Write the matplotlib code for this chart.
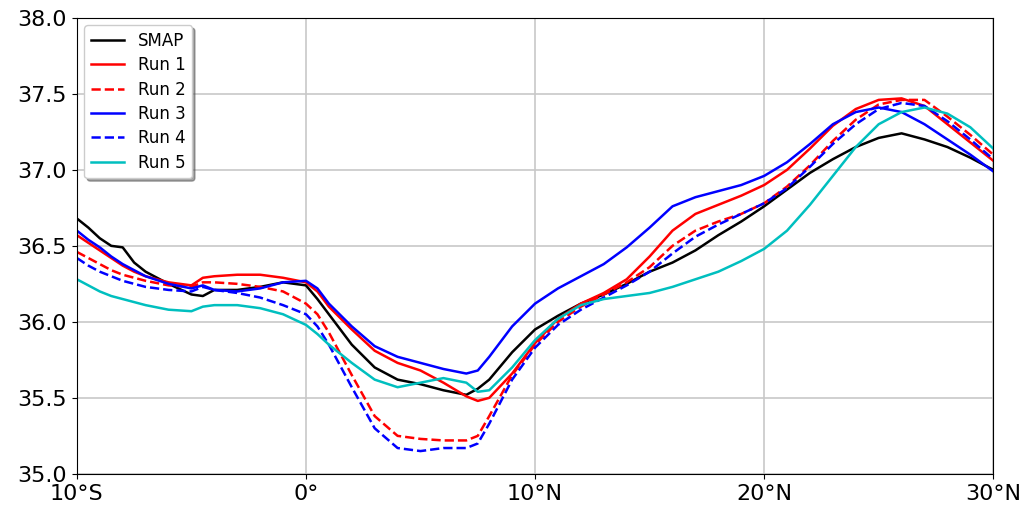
import numpy as np
import matplotlib.pyplot as plt
from matplotlib.ticker import FuncFormatter

lat = [-10, -9.5, -9, -8.5, -8, -7.5, -7, -6, -5, -4.5, -4, -3, -2, -1, 0, 0.5,
       1, 2, 3, 4, 5, 6, 7, 7.5, 8, 9, 10, 11, 12, 13, 14, 15, 16, 17, 18, 19,
       20, 21, 22, 23, 24, 25, 26, 27, 28, 29, 30]

smap = [36.68, 36.62, 36.55, 36.50, 36.49, 36.39, 36.33, 36.25, 36.18, 36.17, 36.21,
        36.21, 36.23, 36.26, 36.24, 36.15, 36.05, 35.85, 35.70, 35.62, 35.59, 35.55,
        35.52, 35.56, 35.62, 35.80, 35.95, 36.04, 36.12, 36.18, 36.25, 36.33, 36.39,
        36.47, 36.57, 36.66, 36.76, 36.87, 36.98, 37.07, 37.15, 37.21, 37.24, 37.20,
        37.15, 37.08, 37.00]
run1 = [36.57, 36.52, 36.47, 36.42, 36.37, 36.33, 36.30, 36.26, 36.24, 36.29, 36.30,
        36.31, 36.31, 36.29, 36.26, 36.20, 36.10, 35.95, 35.81, 35.73, 35.68, 35.60,
        35.51, 35.48, 35.50, 35.66, 35.86, 36.02, 36.12, 36.19, 36.28, 36.43, 36.60,
        36.71, 36.77, 36.83, 36.90, 37.00, 37.14, 37.29, 37.40, 37.46, 37.47, 37.42,
        37.30, 37.18, 37.06]
run2 = [36.46, 36.42, 36.38, 36.34, 36.31, 36.29, 36.27, 36.24, 36.23, 36.26, 36.26,
        36.25, 36.23, 36.20, 36.12, 36.05, 35.93, 35.65, 35.38, 35.25, 35.23, 35.22,
        35.22, 35.25, 35.38, 35.65, 35.85, 36.00, 36.10, 36.18, 36.26, 36.36, 36.50,
        36.60, 36.66, 36.71, 36.78, 36.89, 37.03, 37.19, 37.33, 37.43, 37.46, 37.46,
        37.35, 37.23, 37.10]
run3 = [36.60, 36.54, 36.49, 36.43, 36.38, 36.34, 36.30, 36.25, 36.22, 36.24, 36.21,
        36.20, 36.22, 36.26, 36.27, 36.22, 36.12, 35.97, 35.84, 35.77, 35.73, 35.69,
        35.66, 35.68, 35.77, 35.97, 36.12, 36.22, 36.30, 36.38, 36.49, 36.62, 36.76,
        36.82, 36.86, 36.90, 36.96, 37.05, 37.17, 37.30, 37.38, 37.41, 37.38, 37.30,
        37.20, 37.10, 36.99]
run4 = [36.42, 36.37, 36.33, 36.30, 36.27, 36.25, 36.23, 36.21, 36.20, 36.23, 36.21,
        36.19, 36.16, 36.11, 36.05, 35.97, 35.85, 35.57, 35.30, 35.17, 35.15, 35.17,
        35.17, 35.20, 35.33, 35.62, 35.83, 35.98, 36.08, 36.16, 36.24, 36.33, 36.45,
        36.56, 36.64, 36.71, 36.78, 36.88, 37.02, 37.17, 37.30, 37.40, 37.44, 37.42,
        37.32, 37.20, 37.07]
run5 = [36.28, 36.24, 36.20, 36.17, 36.15, 36.13, 36.11, 36.08, 36.07, 36.10, 36.11,
        36.11, 36.09, 36.05, 35.98, 35.92, 35.85, 35.73, 35.62, 35.57, 35.60, 35.63,
        35.60, 35.54, 35.55, 35.70, 35.88, 36.02, 36.11, 36.15, 36.17, 36.19, 36.23,
        36.28, 36.33, 36.40, 36.48, 36.60, 36.77, 36.96, 37.15, 37.30, 37.38, 37.41,
        37.37, 37.28, 37.14]


def lat_fmt(v, pos):
    if v == 0:
        return '0°'
    return f"{abs(v):.0f}°{'N' if v > 0 else 'S'}"


fig = plt.figure(figsize=(10.25, 5.09), dpi=100)
ax = fig.add_axes([0.075, 0.069, 0.894, 0.896])

lw = 1.8
ax.plot(lat, smap, color='k', lw=lw, label='SMAP')
ax.plot(lat, run1, color='r', lw=lw, label='Run 1')
ax.plot(lat, run2, color='r', lw=lw, ls='--', label='Run 2')
ax.plot(lat, run3, color='b', lw=lw, label='Run 3')
ax.plot(lat, run4, color='b', lw=lw, ls='--', label='Run 4')
ax.plot(lat, run5, color='c', lw=lw, label='Run 5')

ax.set_xlim(-10, 30)
ax.set_ylim(35.0, 38.0)
ax.set_xticks([-10, 0, 10, 20, 30])
ax.set_yticks(np.arange(35.0, 38.01, 0.5))
ax.xaxis.set_major_formatter(FuncFormatter(lat_fmt))
ax.yaxis.set_major_formatter(FuncFormatter(lambda v, p: f'{v:.1f}'))
ax.tick_params(labelsize=16)
ax.grid(True, color='#c8c8c8', lw=1.2)

ax.legend(loc='upper left', fontsize=12, fancybox=True, shadow=True,
          labelspacing=0.38, borderaxespad=0.45)

fig.savefig('out.png', dpi=100)
